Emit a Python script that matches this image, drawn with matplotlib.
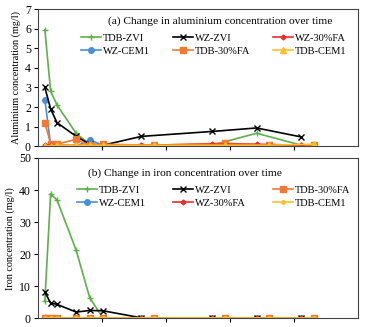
import matplotlib.pyplot as plt

plt.rcParams['font.family'] = ['Liberation Serif', 'DejaVu Serif']

# sampling times (days) - WZ columns and TDB columns
wz_days = [5.5, 10, 15, 30, 40.5, 51, 81, 136, 171, 206]
tdb_days = [5.5, 10, 15, 30, 40.5, 51, 91, 146, 181, 216]

# aluminium (mg/l)
al_tdb_zvi = [5.95, 2.8, 2.1, 0.65, 0.1, 0.05, 0.02, 0.05, 0.66, 0.05]
al_wz_zvi = [3.0, 1.9, 1.2, 0.5, 0.1, 0.05, 0.5, 0.75, 0.93, 0.47]
al_wz_cem1 = [2.38, 0.05, 0.05, 0.0, 0.32, 0.05, 0.02, 0.02, 0.02, 0.02]
al_wz_30fa = [0.05, 0.05, 0.05, 0.05, 0.05, 0.05, 0.05, 0.1, 0.1, 0.05]
al_tdb_30fa = [1.2, 0.12, 0.1, 0.35, 0.05, 0.1, 0.05, 0.15, 0.05, 0.05]
al_tdb_cem1 = [0.0, 0.02, 0.05, 0.05, 0.05, 0.05, 0.05, 0.05, 0.05, 0.1]

# iron (mg/l)
fe_tdb_zvi = [5.5, 38.8, 36.9, 21.2, 6.5, 0.1, 0, 0, 0, 0]
fe_wz_zvi = [8.2, 4.8, 4.4, 2.0, 2.5, 2.4, 0.2, 0.05, 0.05, 0.05]
fe_wz_cem1 = [0.1, 0.05, 0.05, 0.05, 0.05, 0.05, 0.05, 0.05, 0.05, 0.05]
fe_wz_30fa = [0.6, 0.05, 0.05, 0.05, 0.05, 0.05, 0.05, 0.05, 0.05, 0.05]
fe_tdb_30fa = [0, 0, 0, 0, 0, 0, 0, 0, 0, 0]
fe_tdb_cem1 = [0, 0, 0, 0, 0, 0, 0, 0, 0, 0]

green = '#5fb04a'
blue = '#4a8fd6'
red = '#ee2c2c'
orange = '#f07a35'
gold = '#fdbf2d'

fig = plt.figure(figsize=(3.71, 3.27), dpi=100)
ax1 = fig.add_axes([0.102, 0.553, 0.862, 0.419])
ax2 = fig.add_axes([0.102, 0.026, 0.862, 0.491])

lw = 1.2
ms = 4

# (a) aluminium
ax1.plot(wz_days, al_tdb_zvi, color=green, marker='+', ms=5, lw=lw, label='TDB-ZVI')
ax1.plot(wz_days, al_wz_cem1, color=blue, marker='o', ms=ms, lw=lw, label='WZ-CEM1')
ax1.plot(wz_days, al_wz_zvi, color='black', marker='x', ms=ms, lw=lw, label='WZ-ZVI')
ax1.plot(tdb_days, al_tdb_30fa, color=orange, marker='s', ms=ms, lw=lw, label='TDB-30%FA')
ax1.plot(wz_days, al_wz_30fa, color=red, marker='D', ms=2.5, lw=lw, label='WZ-30%FA')
ax1.plot(tdb_days, al_tdb_cem1, color=gold, marker='^', ms=ms, lw=lw, label='TDB-CEM1')

ax1.set_ylim(0, 7)
ax1.set_xlim(0, 250)
ax1.set_yticks(range(0, 8))
ax1.set_ylabel('Aluminium concentration (mg/l)', fontsize=7.3, labelpad=3)
ax1.text(0.57, 0.91, '(a) Change in aluminium concentration over time',
         transform=ax1.transAxes, ha='center', va='center', fontsize=8.2)
ax1.legend(loc='upper center', bbox_to_anchor=(0.55, 0.86), ncol=3, frameon=False,
           fontsize=7.5, handlelength=1.9, handletextpad=0.2, columnspacing=2.2,
           labelspacing=0.35, borderpad=0)

# (b) iron
ax2.plot(tdb_days, fe_tdb_zvi, color=green, marker='+', ms=5, lw=lw, label='TDB-ZVI')
ax2.plot(wz_days, fe_wz_cem1, color=blue, marker='o', ms=ms, lw=lw, label='WZ-CEM1')
ax2.plot(wz_days, fe_wz_zvi, color='black', marker='x', ms=ms, lw=lw, label='WZ-ZVI')
ax2.plot(wz_days, fe_wz_30fa, color=red, marker='D', ms=2.5, lw=lw, label='WZ-30%FA')
ax2.plot(tdb_days, fe_tdb_30fa, color=orange, marker='s', ms=ms, lw=lw, label='TDB-30%FA')
ax2.plot(tdb_days, fe_tdb_cem1, color=gold, marker='o', ms=2.5, lw=lw, label='TDB-CEM1')

ax2.set_ylim(0, 50)
ax2.set_xlim(0, 250)
ax2.set_yticks(range(0, 51, 10))
ax2.set_ylabel('Iron concentration (mg/l)', fontsize=7.3, labelpad=3)
ax2.text(0.46, 0.905, '(b) Change in iron concentration over time',
         transform=ax2.transAxes, ha='center', va='center', fontsize=8.2)
ax2.legend(loc='upper center', bbox_to_anchor=(0.55, 0.86), ncol=3, frameon=False,
           fontsize=7.5, handlelength=1.9, handletextpad=0.2, columnspacing=2.6,
           labelspacing=0.35, borderpad=0)

for ax in (ax1, ax2):
    ax.set_xticks([50, 100, 150, 200])
    ax.tick_params(axis='x', direction='out', length=3, labelbottom=False)
    ax.tick_params(axis='y', direction='out', length=3, labelsize=8.5, pad=2)
    for s in ax.spines.values():
        s.set_linewidth(0.8)
        s.set_color('#444444')

fig.savefig('out.png', dpi=100)
